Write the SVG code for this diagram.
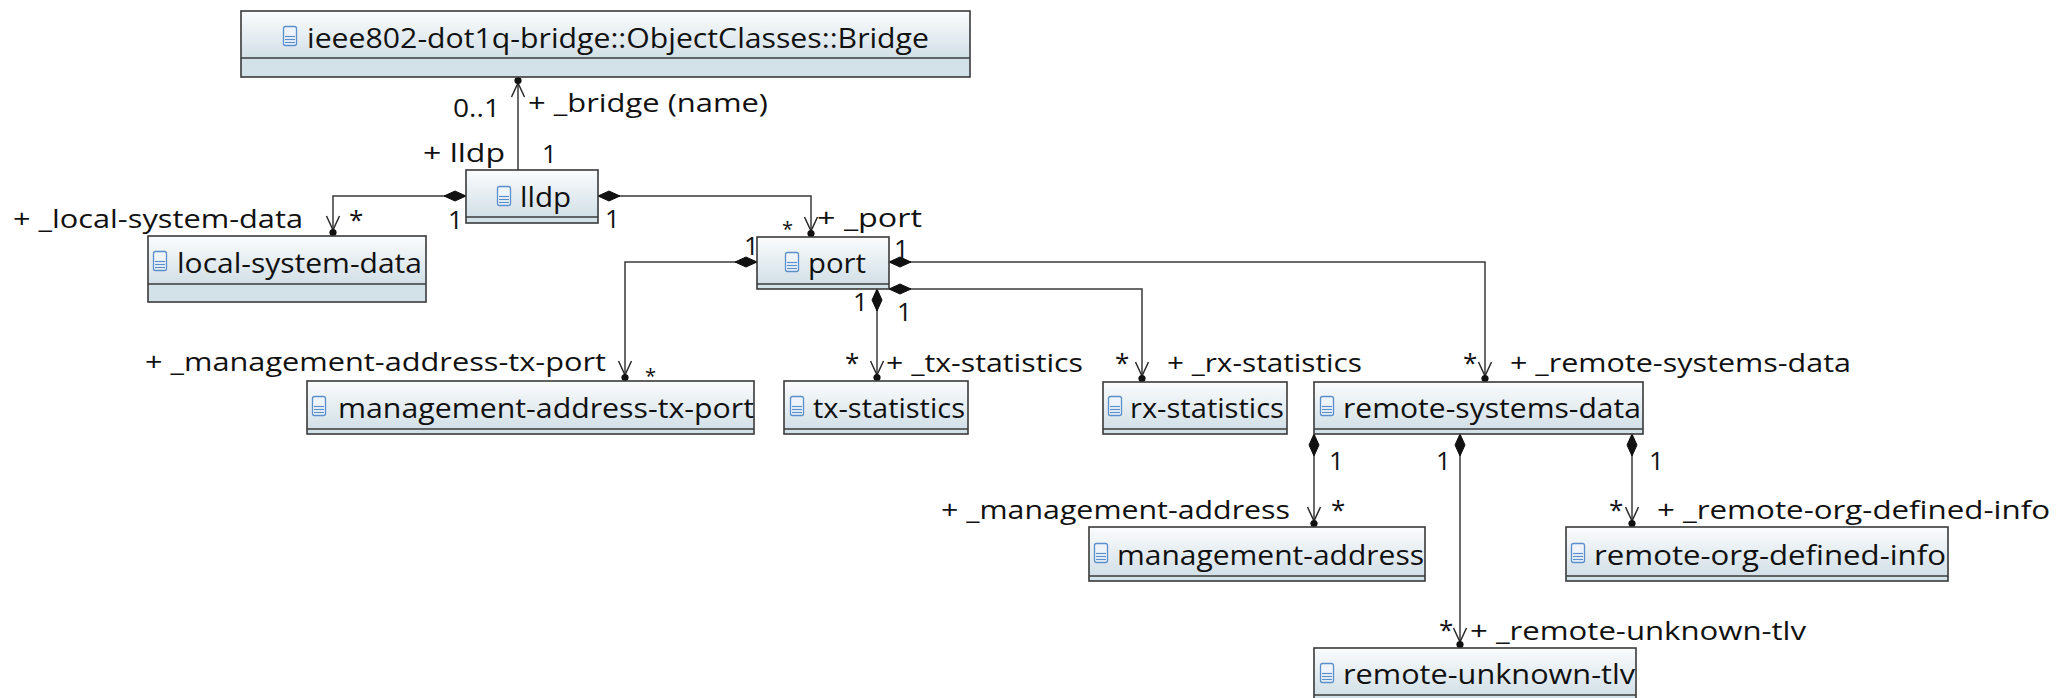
<svg xmlns="http://www.w3.org/2000/svg" xmlns:xlink="http://www.w3.org/1999/xlink" width="2064" height="698" viewBox="0 0 2064 698">
<style>
.bg{fill:#ffffff}
.hdr{fill:url(#hg)}
.cmp{fill:#d3e1e8}
.out{fill:none;stroke:#3a3a3a;stroke-width:1.6}
.sep{stroke:#3a3a3a;stroke-width:1.6}
.title{font-family:"Open Sans","Noto Sans","DejaVu Sans",sans-serif;font-size:27px;fill:#111}
.lbl{font-family:"Open Sans","Noto Sans","DejaVu Sans",sans-serif;font-size:26px;fill:#111}
.sm{font-family:"Open Sans","Noto Sans","DejaVu Sans",sans-serif;font-size:20px;fill:#111}
.conn{fill:none;stroke:#3a3a3a;stroke-width:1.5}
</style>
<defs>
<linearGradient id="hg" x1="0" y1="0" x2="0" y2="1">
<stop offset="0" stop-color="#fbfcfd"/>
<stop offset="1" stop-color="#d2e0e7"/>
</linearGradient>
<g id="icon">
<rect x="0.5" y="0.5" width="13" height="19" rx="2" fill="#eef4fa" stroke="#5b8fcb" stroke-width="1.3"/>
<line x1="2" y1="10.5" x2="12" y2="10.5" stroke="#5b8fcb" stroke-width="1.2"/>
<line x1="2" y1="13.5" x2="12" y2="13.5" stroke="#5b8fcb" stroke-width="1.2"/>
<line x1="2" y1="16.5" x2="12" y2="16.5" stroke="#5b8fcb" stroke-width="1.2"/>
</g>
<marker id="own" markerUnits="userSpaceOnUse" orient="auto" refX="0" refY="0" markerWidth="30" markerHeight="30" overflow="visible">
<polyline points="-20,-6.5 -6,0 -20,6.5" fill="none" stroke="#2a2a2a" stroke-width="1.5"/>
<circle cx="-3.5" cy="0" r="3.6" fill="#111"/>
</marker>
<marker id="dia" markerUnits="userSpaceOnUse" orient="auto" refX="0" refY="0" markerWidth="30" markerHeight="30" overflow="visible">
<polygon points="0,0 11,-5 22,0 11,5" fill="#111" stroke="#111" stroke-width="1"/>
</marker>
</defs>
<rect class="bg" x="0" y="0" width="2064" height="698"/>

<g id="connectors">
<path class="conn" d="M518,170 V77" marker-end="url(#own)"/>
<path class="conn" d="M466,196 H333 V236" marker-start="url(#dia)" marker-end="url(#own)"/>
<path class="conn" d="M598,196 H811 V237" marker-start="url(#dia)" marker-end="url(#own)"/>
<path class="conn" d="M757,262 H625 V381" marker-start="url(#dia)" marker-end="url(#own)"/>
<path class="conn" d="M877,289 V381" marker-start="url(#dia)" marker-end="url(#own)"/>
<path class="conn" d="M889,289 H1142 V382" marker-start="url(#dia)" marker-end="url(#own)"/>
<path class="conn" d="M889,262 H1485 V382" marker-start="url(#dia)" marker-end="url(#own)"/>
<path class="conn" d="M1314,434 V527" marker-start="url(#dia)" marker-end="url(#own)"/>
<path class="conn" d="M1460,434 V648" marker-start="url(#dia)" marker-end="url(#own)"/>
<path class="conn" d="M1632,434 V527" marker-start="url(#dia)" marker-end="url(#own)"/>
</g>

<g id="labels">
<text class="lbl" x="453" y="117" textLength="47" lengthAdjust="spacingAndGlyphs">0..1</text>
<text class="lbl" x="528" y="112" textLength="240" lengthAdjust="spacingAndGlyphs">+ _bridge (name)</text>
<text class="lbl" x="423" y="162" textLength="82" lengthAdjust="spacingAndGlyphs">+ lldp</text>
<text class="lbl" x="542" y="163">1</text>
<text class="lbl" x="13" y="228" textLength="290" lengthAdjust="spacingAndGlyphs">+ _local-system-data</text>
<text class="lbl" x="349" y="229">*</text>
<text class="lbl" x="448" y="229">1</text>
<text class="lbl" x="605" y="228">1</text>
<text class="sm" x="782" y="236">*</text>
<text class="lbl" x="817" y="227" textLength="105" lengthAdjust="spacingAndGlyphs">+ _port</text>
<text class="lbl" x="744" y="255">1</text>
<text class="lbl" x="894" y="258">1</text>
<text class="lbl" x="853" y="311">1</text>
<text class="lbl" x="897" y="321">1</text>
<text class="lbl" x="145" y="371" textLength="461" lengthAdjust="spacingAndGlyphs">+ _management-address-tx-port</text>
<text class="sm" x="645" y="383">*</text>
<text class="lbl" x="845" y="372">*</text>
<text class="lbl" x="886" y="372" textLength="197" lengthAdjust="spacingAndGlyphs">+ _tx-statistics</text>
<text class="lbl" x="1115" y="372">*</text>
<text class="lbl" x="1167" y="372" textLength="195" lengthAdjust="spacingAndGlyphs">+ _rx-statistics</text>
<text class="lbl" x="1463" y="372">*</text>
<text class="lbl" x="1510" y="372" textLength="341" lengthAdjust="spacingAndGlyphs">+ _remote-systems-data</text>
<text class="lbl" x="1329" y="470">1</text>
<text class="lbl" x="1436" y="470">1</text>
<text class="lbl" x="1649" y="470">1</text>
<text class="lbl" x="941" y="519" textLength="349" lengthAdjust="spacingAndGlyphs">+ _management-address</text>
<text class="lbl" x="1331" y="519">*</text>
<text class="lbl" x="1609" y="519">*</text>
<text class="lbl" x="1657" y="519" textLength="393" lengthAdjust="spacingAndGlyphs">+ _remote-org-defined-info</text>
<text class="lbl" x="1439" y="639">*</text>
<text class="lbl" x="1470" y="640" textLength="336" lengthAdjust="spacingAndGlyphs">+ _remote-unknown-tlv</text>
</g>

<g id="node-bridge">
<rect class="hdr" x="241" y="11" width="729" height="47"/>
<rect class="cmp" x="241" y="58" width="729" height="19"/>
<line class="sep" x1="241" y1="58" x2="970" y2="58"/>
<rect class="out" x="241" y="11" width="729" height="66"/>
<use xlink:href="#icon" href="#icon" x="283" y="26"/>
<text class="title" x="307" y="48" textLength="622" lengthAdjust="spacingAndGlyphs">ieee802-dot1q-bridge::ObjectClasses::Bridge</text>
</g>

<g id="node-lldp">
<rect class="hdr" x="466" y="170" width="132" height="47"/>
<rect class="cmp" x="466" y="217" width="132" height="6"/>
<line class="sep" x1="466" y1="217" x2="598" y2="217"/>
<rect class="out" x="466" y="170" width="132" height="53"/>
<use xlink:href="#icon" href="#icon" x="497" y="186"/>
<text class="title" x="520" y="207" textLength="51" lengthAdjust="spacingAndGlyphs">lldp</text>
</g>

<g id="node-local-system-data">
<rect class="hdr" x="148" y="236" width="278" height="48"/>
<rect class="cmp" x="148" y="284" width="278" height="18"/>
<line class="sep" x1="148" y1="284" x2="426" y2="284"/>
<rect class="out" x="148" y="236" width="278" height="66"/>
<use xlink:href="#icon" href="#icon" x="153" y="251"/>
<text class="title" x="177" y="273" textLength="245" lengthAdjust="spacingAndGlyphs">local-system-data</text>
</g>

<g id="node-port">
<rect class="hdr" x="757" y="237" width="132" height="47"/>
<rect class="cmp" x="757" y="284" width="132" height="5"/>
<line class="sep" x1="757" y1="284" x2="889" y2="284"/>
<rect class="out" x="757" y="237" width="132" height="52"/>
<use xlink:href="#icon" href="#icon" x="785" y="252"/>
<text class="title" x="808" y="273" textLength="58" lengthAdjust="spacingAndGlyphs">port</text>
</g>

<g id="node-management-address-tx-port">
<rect class="hdr" x="307" y="381" width="447" height="48"/>
<rect class="cmp" x="307" y="429" width="447" height="5"/>
<line class="sep" x1="307" y1="429" x2="754" y2="429"/>
<rect class="out" x="307" y="381" width="447" height="53"/>
<use xlink:href="#icon" href="#icon" x="312" y="396"/>
<text class="title" x="338" y="418" textLength="416" lengthAdjust="spacingAndGlyphs">management-address-tx-port</text>
</g>

<g id="node-tx-statistics">
<rect class="hdr" x="784" y="381" width="184" height="48"/>
<rect class="cmp" x="784" y="429" width="184" height="5"/>
<line class="sep" x1="784" y1="429" x2="968" y2="429"/>
<rect class="out" x="784" y="381" width="184" height="53"/>
<use xlink:href="#icon" href="#icon" x="790" y="396"/>
<text class="title" x="813" y="418" textLength="152" lengthAdjust="spacingAndGlyphs">tx-statistics</text>
</g>

<g id="node-rx-statistics">
<rect class="hdr" x="1103" y="382" width="184" height="47"/>
<rect class="cmp" x="1103" y="429" width="184" height="5"/>
<line class="sep" x1="1103" y1="429" x2="1287" y2="429"/>
<rect class="out" x="1103" y="382" width="184" height="52"/>
<use xlink:href="#icon" href="#icon" x="1108" y="396"/>
<text class="title" x="1130" y="418" textLength="154" lengthAdjust="spacingAndGlyphs">rx-statistics</text>
</g>

<g id="node-remote-systems-data">
<rect class="hdr" x="1314" y="382" width="329" height="47"/>
<rect class="cmp" x="1314" y="429" width="329" height="5"/>
<line class="sep" x1="1314" y1="429" x2="1643" y2="429"/>
<rect class="out" x="1314" y="382" width="329" height="52"/>
<use xlink:href="#icon" href="#icon" x="1320" y="396"/>
<text class="title" x="1343" y="418" textLength="298" lengthAdjust="spacingAndGlyphs">remote-systems-data</text>
</g>

<g id="node-management-address">
<rect class="hdr" x="1089" y="527" width="336" height="49"/>
<rect class="cmp" x="1089" y="576" width="336" height="5"/>
<line class="sep" x1="1089" y1="576" x2="1425" y2="576"/>
<rect class="out" x="1089" y="527" width="336" height="54"/>
<use xlink:href="#icon" href="#icon" x="1094" y="543"/>
<text class="title" x="1117" y="565" textLength="307" lengthAdjust="spacingAndGlyphs">management-address</text>
</g>

<g id="node-remote-org-defined-info">
<rect class="hdr" x="1566" y="527" width="382" height="49"/>
<rect class="cmp" x="1566" y="576" width="382" height="5"/>
<line class="sep" x1="1566" y1="576" x2="1948" y2="576"/>
<rect class="out" x="1566" y="527" width="382" height="54"/>
<use xlink:href="#icon" href="#icon" x="1571" y="543"/>
<text class="title" x="1594" y="565" textLength="352" lengthAdjust="spacingAndGlyphs">remote-org-defined-info</text>
</g>

<g id="node-remote-unknown-tlv">
<rect class="hdr" x="1314" y="648" width="322" height="47"/>
<rect class="cmp" x="1314" y="695" width="322" height="6"/>
<line class="sep" x1="1314" y1="695" x2="1636" y2="695"/>
<rect class="out" x="1314" y="648" width="322" height="53"/>
<use xlink:href="#icon" href="#icon" x="1320" y="663"/>
<text class="title" x="1343" y="684" textLength="292" lengthAdjust="spacingAndGlyphs">remote-unknown-tlv</text>
</g>
</svg>
